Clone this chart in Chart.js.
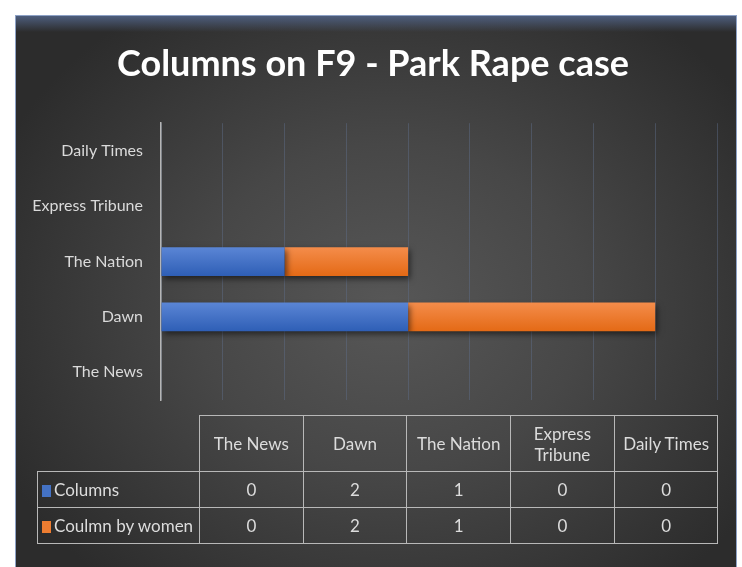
<!DOCTYPE html>
<html>
<head>
<meta charset="utf-8">
<script src="https://cdn.jsdelivr.net/npm/chart.js@4.4.0/dist/chart.umd.min.js"></script>
<style>
  html, body { margin: 0; padding: 0; background: #ffffff; }
  .pagina { position: relative; width: 742px; height: 567px; overflow: hidden; }
  .painel {
    position: absolute; left: 15px; top: 15px; width: 720px; height: 560px;
    border: 1px solid #8ea2c6; border-bottom: none;
    background: radial-gradient(ellipse 60% 65% at 52% 52%, #575757 0%, #474747 45%, #2c2c2c 100%);
  }
  .painel::before {
    content: ''; position: absolute; left: 0; top: 0; right: 0; height: 16px;
    background: linear-gradient(#4d5d7c, rgba(60,70,90,0));
  }
  .grafico { position: absolute; left: 0; top: 0; width: 742px; height: 567px; }
  .tabela {
    position: absolute; left: 37px; top: 415px; border-collapse: collapse;
    font-family: Lato, sans-serif; font-size: 17px; color: #dcdcdc;
  }
  .tabela td { border: 1.5px solid #b8b8b8; text-align: center; padding: 0; height: 35px; width: 102.7px; }
  .tabela tr.cab td { height: 55px; line-height: 21px; }
  .tabela td.vazio { border: none; border-right: 1.5px solid #b8b8b8; border-bottom: 1.5px solid #b8b8b8; }
  .tabela td.nome { width: 157px; text-align: left; padding-left: 4px; white-space: nowrap; }
  .chave { display: inline-block; width: 9px; height: 12px; margin-right: 3px; vertical-align: -1px; }
</style>
</head>
<body>
<div class="pagina">
  <div class="painel"></div>
  <div class="grafico"><canvas id="grafico"></canvas></div>
  <table class="tabela" id="tabela"></table>
</div>
<script>
const jornais = ['The News', 'Dawn', 'The Nation', 'Express Tribune', 'Daily Times'];
const jornaisTabela = ['The News', 'Dawn', 'The Nation', 'Express<br>Tribune', 'Daily Times'];
const colunas = [0, 2, 1, 0, 0];
const colunasMulheres = [0, 2, 1, 0, 0];
const nomesSeries = ['Columns', 'Coulmn by women'];
const cores = ['#4472c4', '#ed7d31'];

const sombraBarras = {
	id: 'sombraBarras',
	beforeDatasetsDraw(chart) {
		const ctx = chart.ctx;
		ctx.save();
		ctx.shadowColor = 'rgba(0, 0, 0, 0.55)';
		ctx.shadowBlur = 6;
		ctx.shadowOffsetX = 2;
		ctx.shadowOffsetY = 3;
	},
	afterDatasetsDraw(chart) {
		chart.ctx.restore();
	}
};

// gradiente vertical em cada barra, calculado pelo centro da categoria
function gradienteBarra(cor1, cor2, corBase) {
	return (context) => {
		const chart = context.chart;
		const escala = chart.scales && chart.scales.y;
		if (!escala || context.dataIndex === undefined) return corBase;
		const meio = escala.getPixelForValue(context.dataIndex);
		if (!Number.isFinite(meio)) return corBase;
		const g = chart.ctx.createLinearGradient(0, meio - 14, 0, meio + 14);
		g.addColorStop(0, cor1);
		g.addColorStop(1, cor2);
		return g;
	};
}

function montarTabela() {
	const tabela = document.getElementById('tabela');
	let html = '<tr class="cab"><td class="vazio nome"></td>';
	jornaisTabela.forEach(j => { html += `<td>${j}</td>`; });
	html += '</tr>';
	[colunas, colunasMulheres].forEach((serie, i) => {
		html += `<tr><td class="nome"><span class="chave" style="background:${cores[i]}"></span>${nomesSeries[i]}</td>`;
		serie.forEach(v => { html += `<td>${v}</td>`; });
		html += '</tr>';
	});
	tabela.innerHTML = html;
}

montarTabela();

const ctx = document.getElementById('grafico').getContext('2d');
const grafico = new Chart(ctx, {
	type: 'bar',
	data: {
		labels: jornais,
		datasets: [
			{
				label: nomesSeries[0],
				data: colunas,
				backgroundColor: gradienteBarra('#5a85d5', '#2f5fb6', cores[0]),
				borderWidth: 0
			},
			{
				label: nomesSeries[1],
				data: colunasMulheres,
				backgroundColor: gradienteBarra('#f48c4a', '#e46a16', cores[1]),
				borderWidth: 0
			}
		]
	},
	options: {
		indexAxis: 'y',
		responsive: true,
		maintainAspectRatio: false,
		animation: false,
		categoryPercentage: 0.52,
		barPercentage: 1,
		layout: {
			padding: { left: 29, right: 25, top: 15, bottom: 167 }
		},
		scales: {
			x: {
				stacked: true,
				min: 0,
				max: 4.5,
				ticks: { display: false, stepSize: 0.5 },
				grid: { color: 'rgba(95, 110, 140, 0.45)', lineWidth: 1, drawTicks: false },
				border: { display: false },
				afterFit: (s) => { s.height = 0; }
			},
			y: {
				stacked: true,
				reverse: true,
				grid: { display: false },
				border: { display: true, color: '#b5b5b5', width: 1.5 },
				ticks: {
					color: '#dadada',
					padding: 10,
					font: { family: 'Lato', size: 16 }
				},
				afterFit: (s) => { s.width = 132; }
			}
		},
		plugins: {
			legend: { display: false },
			tooltip: { enabled: false },
			title: {
				display: true,
				text: 'Columns on F9 - Park Rape case',
				color: '#ffffff',
				font: { family: 'Lato', size: 36, weight: 'bold' },
				padding: { top: 28, bottom: 37 }
			}
		}
	},
	plugins: [sombraBarras]
});
</script>
</body>
</html>
